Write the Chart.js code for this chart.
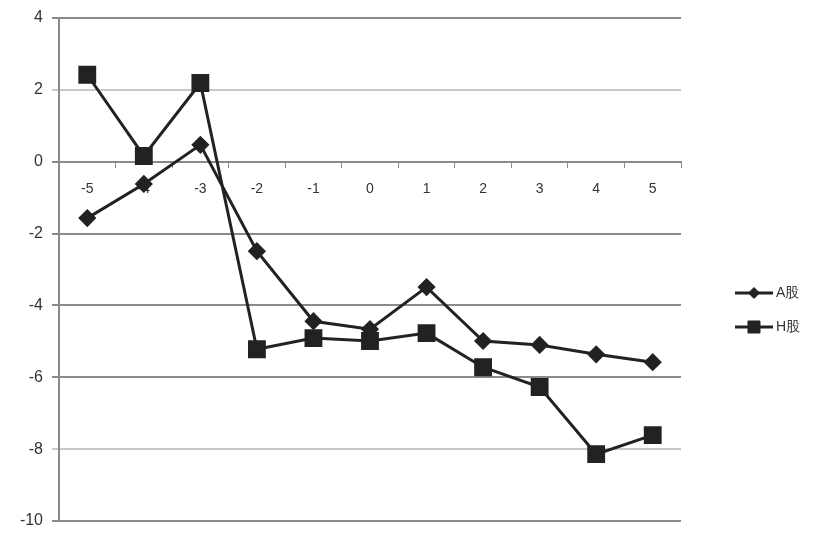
<!DOCTYPE html>
<html>
<head>
<meta charset="utf-8">
<script src="https://cdn.jsdelivr.net/npm/chart.js@4.4.1/dist/chart.umd.min.js"></script>
<style>
  html, body { margin: 0; padding: 0; background: #fff; }
  #wrap { width: 816px; height: 536px; }
</style>
</head>
<body>
<div id="wrap"><canvas id="chart" width="816" height="536"></canvas></div>
<script>
const categories = ['-5', '-4', '-3', '-2', '-1', '0', '1', '2', '3', '4', '5']
const aShares = [-1.57, -0.62, 0.47, -2.49, -4.44, -4.66, -3.49, -4.99, -5.1, -5.36, -5.58]
const hShares = [2.42, 0.16, 2.19, -5.22, -4.91, -4.99, -4.77, -5.72, -6.27, -8.14, -7.61]
const seriesNames = ['A股', 'H股']

const lineColor = '#222'
const axisGray = '#8a8a8a'
const lightGray = '#c8c8c8'

// legend at the right, line + marker + label, drawn like the office chart
const sideLegend = {
    id: 'sideLegend',
    afterDraw(chart) {
        const ctx = chart.ctx
        const top = 293
        chart.data.datasets.forEach((ds, k) => {
            const y = top + k * 34
            ctx.save()
            ctx.strokeStyle = lineColor
            ctx.fillStyle = lineColor
            ctx.lineWidth = 3
            ctx.beginPath()
            ctx.moveTo(735, y)
            ctx.lineTo(773, y)
            ctx.stroke()
            ctx.lineWidth = 1
            Chart.helpers.drawPoint(ctx, {
                pointStyle: ds.pointStyle,
                radius: ds.pointStyle === 'rect' ? 8.5 : 5.5,
                borderWidth: 1
            }, 754, y)
            ctx.fillStyle = '#333'
            ctx.font = '14px "Liberation Sans", Arial, sans-serif'
            ctx.textBaseline = 'middle'
            ctx.fillText(ds.label, 776, y)
            ctx.restore()
        })
    }
}

window.onload = () => {
    const ctx = document.getElementById('chart').getContext('2d')
    Chart.defaults.font.family = '"Liberation Sans", Arial, sans-serif'
    Chart.defaults.color = '#333'

    new Chart(ctx, {
        type: 'line',
        data: {
            labels: categories,
            datasets: [{
                label: seriesNames[0],
                data: aShares,
                borderColor: lineColor,
                backgroundColor: lineColor,
                borderWidth: 3,
                pointStyle: 'rectRot',
                pointRadius: 7,
                pointHoverRadius: 7,
                tension: 0
            }, {
                label: seriesNames[1],
                data: hShares,
                borderColor: lineColor,
                backgroundColor: lineColor,
                borderWidth: 3,
                pointStyle: 'rect',
                pointRadius: 10.5,
                pointHoverRadius: 10.5,
                tension: 0
            }]
        },
        options: {
            responsive: false,
            animation: false,
            events: [],
            layout: {
                padding: { top: 18, right: 135, bottom: 15, left: 0 }
            },
            scales: {
                x: {
                    position: { y: 0 },
                    offset: true,
                    grid: {
                        offset: true,
                        drawOnChartArea: false,
                        drawTicks: true,
                        tickLength: 5,
                        color: axisGray
                    },
                    border: { display: true, color: axisGray, width: 2 },
                    ticks: {
                        padding: 14,
                        font: { size: 14 },
                        maxRotation: 0
                    }
                },
                y: {
                    min: -10,
                    max: 4,
                    afterFit(scale) {
                        scale.width = 59
                        scale.paddingTop = 0
                        scale.paddingBottom = 0
                    },
                    grid: {
                        drawTicks: true,
                        tickLength: 7,
                        lineWidth: 2,
                        color: c => (c.tick && (c.tick.value === 2 || c.tick.value === -8)) ? lightGray : axisGray
                    },
                    border: { display: true, color: axisGray, width: 2 },
                    ticks: {
                        stepSize: 2,
                        padding: 9,
                        font: { size: 16 }
                    }
                }
            },
            plugins: {
                legend: { display: false },
                tooltip: { enabled: false }
            }
        },
        plugins: [sideLegend]
    })
}
</script>
</body>
</html>
